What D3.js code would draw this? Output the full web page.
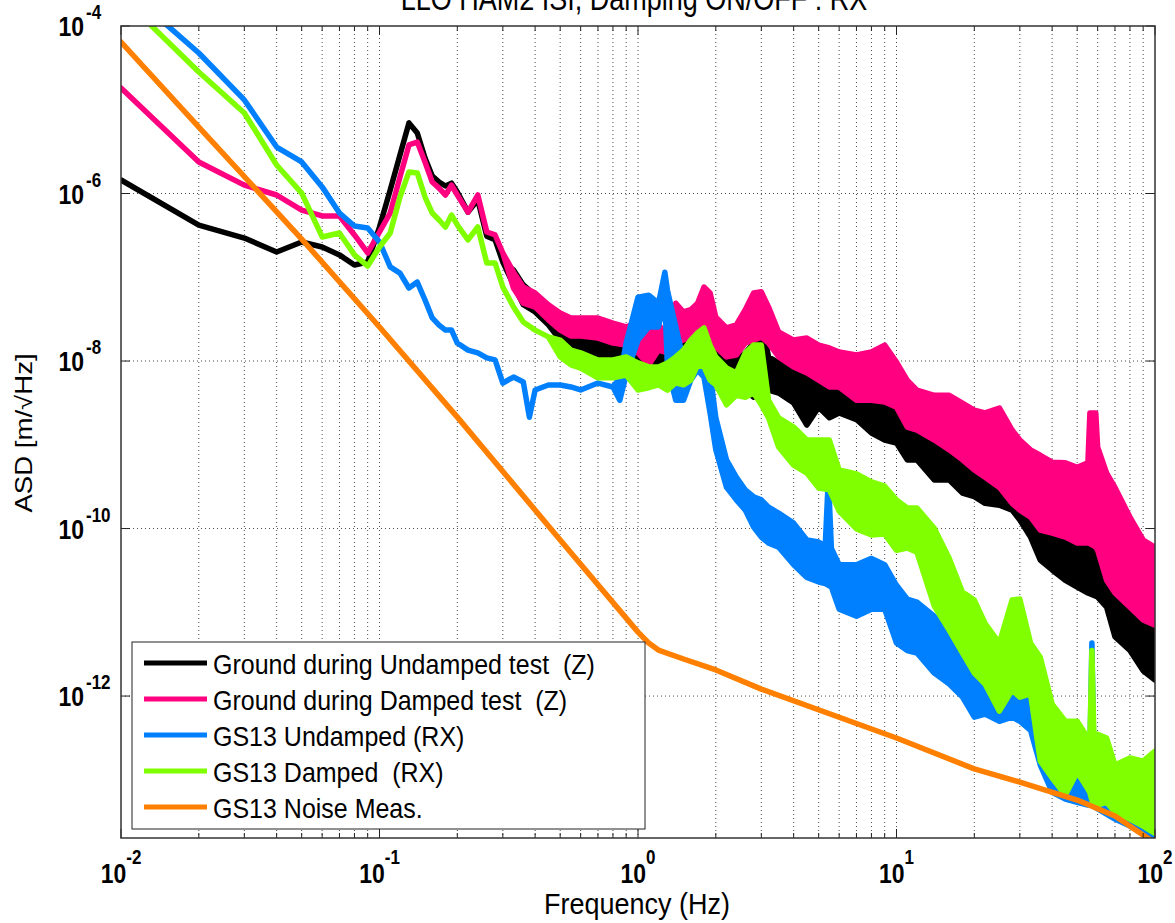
<!DOCTYPE html>
<html lang="en">
<head>
<meta charset="UTF-8">
<title>LLO HAM2 ISI, Damping ON/OFF : RX</title>
<script src="https://d3js.org/d3.v7.min.js"></script>
<style>
  body { margin: 0; background: #fff; }
  svg { display: block; font-family: "Liberation Sans", Arial, Helvetica, sans-serif; }
  .grid { stroke: #000; stroke-width: 1; stroke-dasharray: 1,3; opacity: 0.7; }
  .legend text { white-space: pre; }
</style>
</head>
<body>
<svg width="1175" height="923"></svg>
<script>
// each point: [frequency Hz, upper ASD, lower ASD]; one ASD value where the trace is a clean line
const groundUndamped = [
  [0.01,1.45e-6],[0.02,4.2e-7],[0.03,2.94e-7],[0.04,2.0e-7],[0.05,2.64e-7],[0.06,2.3e-7],
  [0.07,1.85e-7],[0.08,1.4e-7],[0.09,1.52e-7],[0.1,3.98e-7],[0.11,1.1e-6],[0.12,2.88e-6],
  [0.13,6.95e-6],[0.14,5.27e-6],[0.15,2.65e-6],[0.16,1.62e-6],[0.17,1.37e-6],[0.18,1.23e-6],
  [0.19,1.33e-6],[0.2,1.04e-6],[0.22,6.0e-7],[0.24,8.4e-7],[0.26,3.1e-7],[0.28,2.8e-7],[0.3,1.52e-7],
  [0.33,1.22e-7,8.1e-8],[0.36,8.1e-8,4.7e-8],[0.4,6.1e-8,3.85e-8],[0.45,4.1e-8,2.7e-8],
  [0.5,3.1e-8,1.78e-8],[0.55,2.7e-8,1.55e-8],[0.6,2.34e-8,1.43e-8],[0.7,2.04e-8,1.18e-8],
  [0.8,1.93e-8,1.12e-8],[0.9,1.78e-8,9.7e-9],[1.0,1.78e-8,9.7e-9],[1.1,1.93e-8,8.5e-9],
  [1.2,1.93e-8,9.7e-9],[1.3,1.78e-8,8.5e-9],[1.4,1.47e-8,7.8e-9],[1.5,1.64e-8,9.7e-9],
  [1.6,1.93e-8,1.12e-8],[1.7,2.16e-8,1.18e-8],[1.8,2.55e-8,1.25e-8],[1.9,1.78e-8,9.0e-9],
  [2.0,1.25e-8,6.4e-9],[2.2,1.03e-8,6.4e-9],[2.4,1.03e-8,6.4e-9],[2.6,1.25e-8,4.5e-9],
  [2.8,1.64e-8,3.7e-9],[3.0,3.1e-8,5.9e-9],[3.2,1.12e-8,4.5e-9],[3.5,9.5e-9,4.15e-9],
  [4,7.8e-9,3.15e-9],[4.5,7.2e-9,1.72e-9],[5,5.5e-9,2.8e-9],[5.5,4.9e-9,2.1e-9],
  [6,4.15e-9,2.4e-9],[7,3.4e-9,2.0e-9],[8,3.15e-9,1.38e-9],[9,3.4e-9,1.14e-9],[10,3.0e-9,1.05e-9],
  [11,2.1e-9,6.6e-10],[12,1.5e-9,6.6e-10],[14,1.14e-9,3.8e-10],[16,9.4e-10,3.8e-10],
  [18,7.1e-10,2.65e-10],[20,5.4e-10,2.4e-10],[22,4.6e-10,2.0e-10],[25,3.5e-10,1.9e-10],
  [28,2.9e-10,1.66e-10],[30,2.2e-10,1.26e-10],[33,1.66e-10,7.9e-11],[36,1.16e-10,4.2e-11],
  [40,1.04e-10,3.2e-11],[45,1.04e-10,2.4e-11],[50,7.9e-11,2.0e-11],[55,6.7e-11,1.7e-11],
  [60,6.0e-11,1.52e-11],[65,4.6e-11,1.15e-11],[70,2.6e-11,5.1e-12],[80,1.52e-11,3.5e-12],
  [90,8.1e-12,2.0e-12],[100,7.4e-12,1.55e-12]
];

const groundDamped = [
  [0.01,1.82e-5],[0.02,2.38e-6],[0.03,1.26e-6],[0.04,9.6e-7],[0.05,6.35e-7],[0.06,5.4e-7],
  [0.07,5.4e-7],[0.08,3.2e-7],[0.09,1.95e-7],[0.1,3.47e-7],[0.11,5.85e-7],[0.12,1.57e-6],
  [0.13,3.8e-6],[0.14,4.12e-6],[0.15,2.38e-6],[0.16,1.37e-6],[0.17,1.16e-6],[0.18,9.6e-7],
  [0.19,1.26e-6],[0.2,9.6e-7],[0.22,6.0e-7],[0.24,9.6e-7],[0.26,3.47e-7],[0.28,3.2e-7],[0.3,1.95e-7],
  [0.33,1.15e-7,7.4e-8],[0.36,7.65e-8,4.9e-8],[0.4,6.5e-8,4.4e-8],[0.45,4.7e-8,3.1e-8],
  [0.5,3.74e-8,2.34e-8],[0.55,3.26e-8,1.99e-8],[0.6,3.26e-8,1.99e-8],[0.7,3.26e-8,1.88e-8],
  [0.8,2.84e-8,1.64e-8],[0.9,2.55e-8,1.55e-8],[1.0,2.92e-8,1.25e-8],[1.1,2.84e-8,9.0e-9],
  [1.2,2.7e-8,1.35e-8],[1.3,2.04e-8,1.25e-8],[1.4,4.9e-8,1.64e-8],[1.5,3.85e-8,1.78e-8],
  [1.6,4.1e-8,1.93e-8],[1.7,4.9e-8,2.16e-8],[1.8,7.65e-8,2.34e-8],[1.9,6.5e-8,1.93e-8],
  [2.0,3.35e-8,1.47e-8],[2.2,2.48e-8,1.12e-8],[2.4,2.7e-8,1.18e-8],[2.6,4.1e-8,1.64e-8],
  [2.8,6.5e-8,1.78e-8],[3.0,6.7e-8,1.93e-8],[3.2,4.4e-8,1.64e-8],[3.5,2.22e-8,1.12e-8],
  [4,1.78e-8,8.5e-9],[4.5,1.88e-8,7.2e-9],[5,1.55e-8,5.9e-9],[5.5,1.43e-8,4.9e-9],
  [6,1.28e-8,4.9e-9],[7,1.18e-8,3.4e-9],[8,1.28e-8,3.4e-9],[9,1.55e-8,3.24e-9],[10,9.7e-9,2.8e-9],
  [11,5.9e-9,1.63e-9],[12,4.5e-9,1.5e-9],[14,3.9e-9,1.14e-9],[16,3.9e-9,8.7e-10],
  [18,3.15e-9,6.6e-10],[20,2.6e-9,5.0e-10],[22,2.4e-9,4.1e-10],[25,2.75e-9,3.1e-10],
  [28,1.5e-9,2.0e-10],[30,1.14e-9,1.66e-10],[33,8.7e-10,1.37e-10],[36,7.5e-10,9.6e-11],
  [40,6.2e-10,8.8e-11],[45,6.1e-10,7.9e-11],[50,5.4e-10,6.7e-11],[55,6.1e-10,6.7e-11],
  [56,2.4e-9,6.6e-11],[59,2.4e-9,6.0e-11],[60,9.4e-10,5.5e-11],[65,4.6e-10,2.4e-11],
  [70,3.1e-10,1.7e-11],[80,1.37e-10,1.15e-11],[90,7.3e-11,8.1e-12],[100,6.0e-11,7.0e-12]
];

const gs13Undamped = [
  [0.01,3.09e-4],[0.02,4.76e-5],[0.03,1.31e-5],[0.04,3.59e-6],[0.05,2.38e-6],[0.06,1.2e-6],
  [0.07,5.85e-7],[0.08,4.09e-7],[0.09,3.87e-7],[0.1,2.64e-7],[0.11,1.33e-7],[0.12,1.12e-7],
  [0.13,7.45e-8],[0.14,8.77e-8],[0.15,5.35e-8],[0.16,3.27e-8],[0.17,2.69e-8],[0.18,2.34e-8],
  [0.19,2.34e-8],[0.2,1.64e-8],[0.22,1.35e-8],[0.24,1.25e-8],[0.26,1.09e-8],[0.28,1.03e-8],
  [0.3,5.46e-9],[0.33,6.44e-9],[0.36,5.61e-9],[0.38,2.14e-9],[0.4,4.51e-9],[0.45,5.17e-9],
  [0.5,5.17e-9],[0.55,4.9e-9],[0.6,4.51e-9],[0.7,5.46e-9],[0.8,4.9e-9],
  [0.85,6.3e-9,3.4e-9],[0.9,1.64e-8,6.8e-9],[1.0,5.8e-8,1.78e-8],[1.1,6.1e-8,2.55e-8],
  [1.2,4.9e-8,2.55e-8],[1.27,1.15e-7,5.35e-8],[1.3,7.0e-8,8.5e-9],[1.4,2.55e-8,3.4e-9],
  [1.5,1.03e-8,3.4e-9],[1.6,1.78e-8,5.9e-9],[1.7,1.93e-8,7.8e-9],[1.8,2.16e-8,6.4e-9],
  [1.9,7.2e-9,2.4e-9],[2.0,2.1e-9,8.7e-10],[2.2,6.6e-10,3.1e-10],[2.4,4.1e-10,2.2e-10],
  [2.6,2.9e-10,1.66e-10],[2.8,2.4e-10,1.04e-10],[3.0,2.2e-10,7.9e-11],[3.2,1.8e-10,6.7e-11],
  [3.5,1.53e-10,6.0e-11],[4,1.16e-10,3.7e-11],[4.5,7.3e-11,2.6e-11],[5,6.9e-11,2.3e-11],
  [5.3,6.2e-11,2.2e-11],[5.45,4.1e-10,2.1e-11],[5.6,5.8e-11,2.0e-11],[6,3.7e-11,1.09e-11],
  [7,3.7e-11,9.0e-12],[8,4.4e-11,1.09e-11],[9,3.7e-11,1.09e-11],[10,2.1e-11,4.3e-12],
  [11,1.44e-11,3.5e-12],[12,1.32e-11,3.26e-12],[14,9.0e-12,1.88e-12],[16,6.1e-12,1.39e-12],
  [18,3.5e-12,9.7e-13],[20,2.0e-12,5.6e-13],[22,1.69e-12,6.1e-13],[25,1.39e-12,5.0e-13],
  [28,1.18e-12,5.6e-13],[30,1.06e-12,5.0e-13],[33,1.18e-12,3.9e-13],[36,6.6e-13,1.5e-13],
  [40,3.8e-13,7.1e-14],[45,2.6e-13,5.9e-14],[50,1.82e-13,5.4e-14],[55,1.67e-13,5.0e-14],
  [56,2.0e-13,5.0e-14],[57,4.3e-12,4.9e-14],[58,2.0e-13,4.8e-14],[60,1.38e-13,4.5e-14],
  [70,1.05e-13,3.4e-14],[80,8.7e-14,2.8e-14],[90,6.6e-14,2.3e-14],[100,5.9e-14,2.1e-14]
];

const gs13Damped = [
  [0.01,2.28e-4],[0.02,2.82e-5],[0.03,9.14e-6],[0.04,2.19e-6],[0.05,1.01e-6],[0.06,3.03e-7],
  [0.07,3.38e-7],[0.08,1.85e-7],[0.09,1.36e-7],[0.1,2.3e-7],[0.11,3.38e-7],[0.12,9.08e-7],
  [0.13,1.81e-6],[0.14,1.76e-6],[0.15,9.08e-7],[0.16,5.85e-7],[0.17,4.83e-7],[0.18,3.98e-7],
  [0.19,5.53e-7],[0.2,4.21e-7],[0.22,2.79e-7],[0.24,3.98e-7],[0.26,1.48e-7],[0.28,1.48e-7],
  [0.3,7.65e-8],[0.33,4.42e-8],[0.36,2.92e-8],[0.4,2.34e-8],[0.45,1.94e-8],
  [0.5,1.78e-8,1.12e-8],[0.55,1.35e-8,9.0e-9],[0.6,1.25e-8,8.25e-9],[0.7,1.03e-8,6.3e-9],
  [0.8,1.03e-8,6.3e-9],[0.9,1.12e-8,6.8e-9],[1.0,9.5e-9,4.5e-9],[1.1,8.5e-9,4.8e-9],
  [1.2,8.5e-9,5.2e-9],[1.3,9.5e-9,4.5e-9],[1.4,1.12e-8,5.5e-9],[1.5,1.35e-8,5.2e-9],
  [1.6,1.78e-8,5.9e-9],[1.7,2.16e-8,9.0e-9],[1.8,2.48e-8,8.5e-9],[1.9,1.55e-8,5.9e-9],
  [2.0,1.12e-8,5.2e-9],[2.2,8.25e-9,3.0e-9],[2.4,7.2e-9,3.9e-9],[2.6,1.25e-8,3.7e-9],
  [2.8,1.55e-8,4.15e-9],[3.0,1.55e-8,3.0e-9],[3.2,3.4e-9,2.1e-9],[3.5,2.1e-9,9.4e-10],
  [4,1.63e-9,5.7e-10],[4.5,1.14e-9,4.6e-10],[5,1.14e-9,3.05e-10],[5.5,1.14e-9,2.9e-10],
  [6,5.0e-10,1.62e-10],[7,4.5e-10,9.9e-11],[8,3.6e-10,8.4e-11],[9,3.2e-10,8.6e-11],
  [10,2.2e-10,5.5e-11],[11,1.76e-10,5.85e-11],[12,1.76e-10,5.2e-11],[14,1.01e-10,1.19e-11],
  [16,4.4e-11,6.1e-12],[18,1.74e-11,3.26e-12],[20,1.4e-11,1.88e-12],[22,7.4e-12,1.39e-12],
  [25,4.3e-12,6.6e-13],[28,1.4e-11,1.18e-12],[30,1.44e-11,9.7e-13],[33,4.3e-12,1.06e-12],
  [36,2.9e-12,1.67e-13],[40,8.0e-13,1.05e-13],[45,5.0e-13,6.6e-14],[50,5.0e-13,1.24e-13],
  [55,3.15e-13,7.75e-14],[56,3.0e-13,7.0e-14],[57,3.5e-12,5.7e-14],[58,3.4e-13,5.2e-14],
  [60,3.5e-13,5.0e-14],[65,3.15e-13,5.4e-14],[70,1.5e-13,4.1e-14],[80,1.82e-13,3.4e-14],
  [90,1.67e-13,2.8e-14],[100,2.2e-13,2.3e-14]
];

const gs13Noise = [
  [0.01,6.44e-5],[0.02,6.22e-6],[0.05,2.86e-7],[0.1,2.55e-8],[0.2,2.14e-9],[0.5,7.3e-11],
  [1.0,5.8e-12],[1.1,4.3e-12],[1.2,3.54e-12],[1.5,2.77e-12],[2,2.05e-12],[3,1.21e-12],
  [10,3.16e-13],[20,1.35e-13],[30,9.4e-14],[50,5.73e-14],[70,3.69e-14],[100,1.76e-14]
];

const seriesData = [groundUndamped, groundDamped, gs13Undamped, gs13Damped, gs13Noise];
const seriesNames = [
  "Ground during Undamped test  (Z)",
  "Ground during Damped test  (Z)",
  "GS13 Undamped (RX)",
  "GS13 Damped  (RX)",
  "GS13 Noise Meas."
];
const seriesColors = ["#000000", "#ff0080", "#0080ff", "#80ff00", "#ff8000"];

const xTickExps = [-2, -1, 0, 1, 2];
const yTickExps = [-4, -6, -8, -10, -12];

const svg = d3.select("svg");
const plot = { left: 121, right: 1155, top: 26, bottom: 838 };
const fontStretch = 1.2; // the original figure text is a little taller than wide

const x = d3.scaleLog().domain([1e-2, 1e2]).range([plot.left, plot.right]);
const y = d3.scaleLog().domain([2.02e-14, 1e-4]).range([plot.bottom, plot.top]);

// x tick positions: every 1..9 x 10^k
const xMinor = [];
for (let e = -2; e < 2; e++) {
  for (let m = 1; m < 10; m++) xMinor.push(m * Math.pow(10, e));
}
xMinor.push(100);
const yMajor = yTickExps.map(e => Math.pow(10, e));

// grid
const grid = svg.append("g");
grid.selectAll(".gx")
  .data(xMinor.filter(d => d > 1e-2 && d < 1e2))
  .join("line")
  .attr("class", "grid")
  .attr("x1", d => x(d)).attr("x2", d => x(d))
  .attr("y1", plot.top).attr("y2", plot.bottom);
grid.selectAll(".gy")
  .data(yMajor.filter(d => d < 1e-4))
  .join("line")
  .attr("class", "grid")
  .attr("x1", plot.left).attr("x2", plot.right)
  .attr("y1", d => y(d)).attr("y2", d => y(d));

// traces
svg.append("clipPath").attr("id", "clip")
  .append("rect")
  .attr("x", plot.left).attr("y", plot.top)
  .attr("width", plot.right - plot.left).attr("height", plot.bottom - plot.top);

const band = d3.area()
  .x(d => x(d[0]))
  .y0(d => y(d.length > 2 ? d[2] : d[1]))
  .y1(d => y(d[1]));

svg.append("g").attr("clip-path", "url(#clip)")
  .selectAll("path")
  .data(seriesData)
  .join("path")
  .attr("d", band)
  .attr("fill", (_, i) => seriesColors[i])
  .attr("stroke", (_, i) => seriesColors[i])
  .attr("stroke-width", 5.5)
  .attr("stroke-linejoin", "round")
  .attr("stroke-linecap", "round");

// ticks on all four sides
const ticks = svg.append("g").attr("stroke", "#222").attr("stroke-width", 1);
xMinor.forEach(d => {
  const len = xTickExps.includes(Math.round(Math.log10(d) * 1000) / 1000) ? 9 : 5;
  ticks.append("line").attr("x1", x(d)).attr("x2", x(d))
    .attr("y1", plot.bottom).attr("y2", plot.bottom - len);
  ticks.append("line").attr("x1", x(d)).attr("x2", x(d))
    .attr("y1", plot.top).attr("y2", plot.top + len);
});
yMajor.forEach(d => {
  ticks.append("line").attr("x1", plot.left).attr("x2", plot.left + 9)
    .attr("y1", y(d)).attr("y2", y(d));
  ticks.append("line").attr("x1", plot.right).attr("x2", plot.right - 9)
    .attr("y1", y(d)).attr("y2", y(d));
});

// frame
svg.append("rect")
  .attr("x", plot.left).attr("y", plot.top)
  .attr("width", plot.right - plot.left).attr("height", plot.bottom - plot.top)
  .attr("fill", "none").attr("stroke", "#333").attr("stroke-width", 1.5);

// x tick labels
xTickExps.forEach(e => {
  const t = svg.append("g")
    .attr("transform", `translate(${x(Math.pow(10, e))},883) scale(1,${fontStretch})`)
    .append("text")
    .attr("text-anchor", "middle")
    .attr("font-size", 23).attr("font-weight", "bold");
  t.append("tspan").text("10");
  t.append("tspan").attr("dy", -19 / fontStretch).attr("font-size", 17).text(e);
});

// y tick labels
yTickExps.forEach(e => {
  const py = y(Math.pow(10, e));
  svg.append("g")
    .attr("transform", `translate(84,${py + 10}) scale(1,${fontStretch})`)
    .append("text")
    .attr("text-anchor", "end")
    .attr("font-size", 23).attr("font-weight", "bold")
    .text("10");
  svg.append("g")
    .attr("transform", `translate(86,${py - 7}) scale(1,${fontStretch})`)
    .append("text")
    .attr("font-size", 17).attr("font-weight", "bold")
    .text(e);
});

// axis labels and title
svg.append("g")
  .attr("transform", "translate(637,914) scale(1,1.12)")
  .append("text")
  .attr("text-anchor", "middle").attr("font-size", 27)
  .text("Frequency (Hz)");

svg.append("g")
  .attr("transform", `translate(32,433) scale(1,${fontStretch}) rotate(-90)`)
  .append("text")
  .attr("text-anchor", "middle").attr("font-size", 23)
  .text("ASD [m/\u221AHz]");

svg.append("g")
  .attr("transform", `translate(634,10) scale(1,${fontStretch})`)
  .append("text")
  .attr("text-anchor", "middle").attr("font-size", 27)
  .text("LLO HAM2 ISI, Damping ON/OFF : RX");

// legend
const legend = svg.append("g").attr("class", "legend");
legend.append("rect")
  .attr("x", 132).attr("y", 642).attr("width", 513).attr("height", 187)
  .attr("fill", "#fff").attr("stroke", "#222").attr("stroke-width", 1);

seriesNames.forEach((name, i) => {
  const ry = 663 + i * 36;
  legend.append("line")
    .attr("x1", 144).attr("x2", 207).attr("y1", ry).attr("y2", ry)
    .attr("stroke", seriesColors[i]).attr("stroke-width", 5);
  legend.append("g")
    .attr("transform", `translate(213,${ry + 11}) scale(1,1.1)`)
    .append("text")
    .attr("font-size", 25)
    .attr("xml:space", "preserve")
    .text(name);
});
</script>
</body>
</html>
